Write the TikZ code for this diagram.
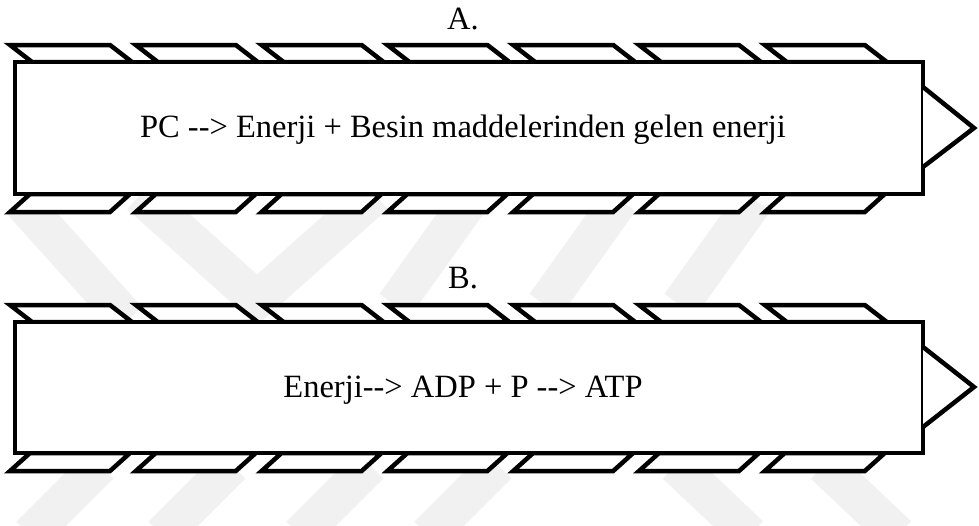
\documentclass[tikz,border=0pt]{standalone}
\usepackage{fontspec}
\setmainfont{Liberation Serif}
\definecolor{wm}{RGB}{241,241,241}
\begin{document}
\begin{tikzpicture}[x=1pt,y=-1pt,
  frame/.style={draw=black,fill=white,line width=4.5pt,line join=miter},
  wmark/.style={draw=wm,line width=38pt,line cap=butt,line join=miter},
  lbl/.style={font=\fontsize{32.5}{39}\selectfont,inner sep=0pt,anchor=base}]
\useasboundingbox (0,0) rectangle (979,525);
\fill[white] (0,0) rectangle (979,525);
% faint watermark
\begin{scope}
\clip (0,0) rectangle (979,525);
\draw[wmark] (20,200)--(128,320);
\draw[wmark] (140,195)--(257,300)--(375,195);
\draw[wmark] (470,200)--(395,305);
\draw[wmark] (620,200)--(545,305);
\draw[wmark] (755,200)--(680,305);
\draw[wmark] (100,465)--(30,535);
\draw[wmark] (232,465)--(162,535);
\draw[wmark] (370,465)--(300,535);
\draw[wmark] (498,465)--(428,535);
\draw[wmark] (676,465)--(750,535);
\draw[wmark] (824,465)--(898,535);
\end{scope}
% ---- A ----
\foreach \i in {0,...,6}{
  \pgfmathsetmacro\xa{10+125.8*\i}
  \draw[frame] (\xa,45)--++(100,0)--++(22,17)--++(-100,0)--cycle;
  \draw[frame] (\xa,212)--++(100,0)--++(20,-18)--++(-100,0)--cycle;
}
\node[frame,minimum width=908pt,minimum height=132pt,inner sep=0pt] (boxA) at (469,128) {};
\draw[frame] (923,87)--(974,128)--(923,167);
\node[lbl] (labA) at (463,29) {A.};
\node[lbl] (txtA) at (463,137) {PC -{}-> Enerji + Besin maddelerinden gelen enerji};
% ---- B ----
\foreach \i in {0,...,6}{
  \pgfmathsetmacro\xa{10+125.8*\i}
  \draw[frame] (\xa,305)--++(100,0)--++(22,17)--++(-100,0)--cycle;
  \draw[frame] (\xa,471)--++(100,0)--++(20,-18)--++(-100,0)--cycle;
}
\node[frame,minimum width=908pt,minimum height=131pt,inner sep=0pt] (boxB) at (469,387.5) {};
\draw[frame] (923,347)--(974,387)--(923,427);
\node[lbl] (labB) at (463,288) {B.};
\node[lbl] (txtB) at (463,397) {Enerji-{}-> ADP + P -{}-> ATP};
\end{tikzpicture}
\end{document}
